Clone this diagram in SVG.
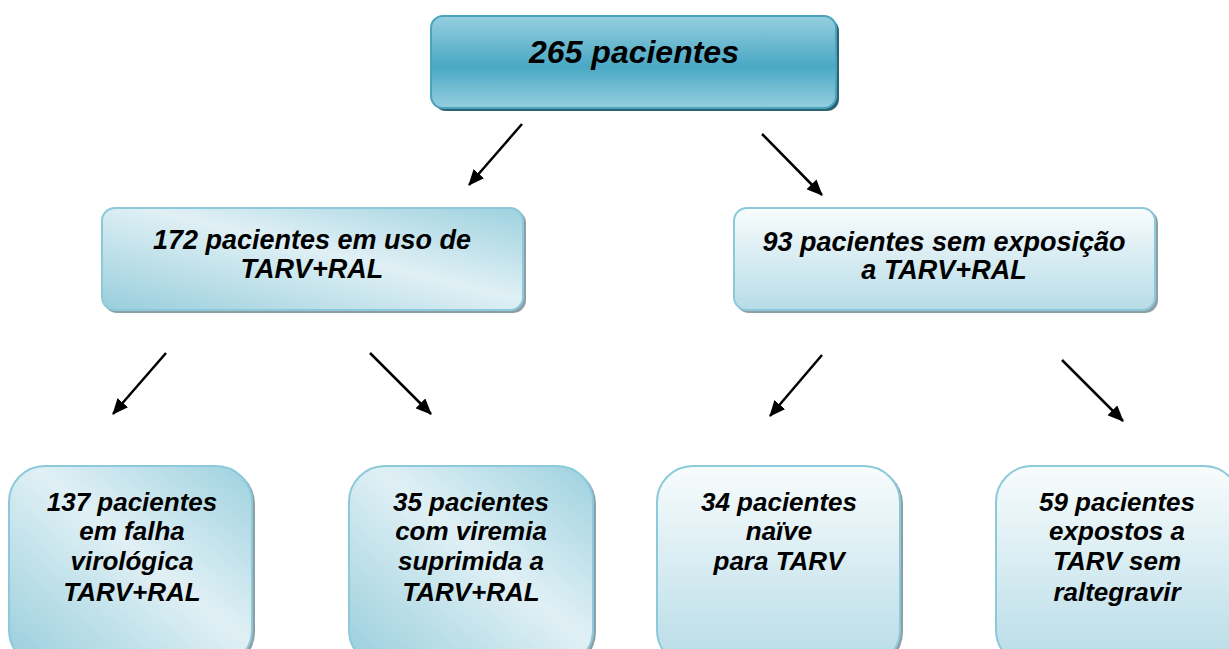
<svg xmlns="http://www.w3.org/2000/svg" width="1229" height="649" viewBox="0 0 1229 649">
<defs>
<linearGradient id="gTop" x1="0" y1="0" x2="0" y2="1">
<stop offset="0" stop-color="#95cfdf"/>
<stop offset="0.55" stop-color="#4aa8c4"/>
<stop offset="1" stop-color="#95cfdf"/>
</linearGradient>
<linearGradient id="gDiag" x1="0" y1="1" x2="1" y2="0">
<stop offset="0" stop-color="#98cedc"/>
<stop offset="0.55" stop-color="#e0f0f5"/>
<stop offset="1" stop-color="#9dd1df"/>
</linearGradient>
<linearGradient id="gVert" x1="0" y1="0" x2="0" y2="1">
<stop offset="0" stop-color="#f8fcfd"/>
<stop offset="1" stop-color="#b7dce7"/>
</linearGradient>
<marker id="ah" markerWidth="16" markerHeight="14" refX="15" refY="7" orient="auto" markerUnits="userSpaceOnUse">
<path d="M0,0 L16,7 L0,14 z" fill="#000"/>
</marker>
<style>
.lbl{font-family:"Liberation Sans",Arial,sans-serif;font-weight:bold;font-style:italic;fill:#000;text-anchor:middle}
.shd{fill:#8d9fa5}
.box{stroke:#8ccadb;stroke-width:2}
.conn{stroke:#000;stroke-width:2.5;fill:none;marker-end:url(#ah)}
</style>
</defs>

<g id="n-root">
<rect x="434" y="19" width="405" height="92" rx="12" fill="#2b6274"/>
<rect x="431" y="16" width="405" height="92" rx="12" fill="url(#gTop)" stroke="#4ba3bd" stroke-width="2"/>
<text class="lbl" x="634" y="63" font-size="32">265 pacientes</text>
</g>

<g id="n-172">
<rect class="shd" x="104" y="210" width="422" height="103" rx="13"/>
<rect class="box" x="102" y="208" width="421" height="102" rx="13" fill="url(#gDiag)"/>
<text class="lbl" x="312" y="249" font-size="27">172 pacientes em uso de</text>
<text class="lbl" x="312" y="278" font-size="27">TARV+RAL</text>
</g>

<g id="n-93">
<rect class="shd" x="736" y="210" width="422" height="103" rx="13"/>
<rect class="box" x="734" y="208" width="421" height="102" rx="13" fill="url(#gVert)"/>
<text class="lbl" x="944" y="251" font-size="27">93 pacientes sem exposição</text>
<text class="lbl" x="944" y="279" font-size="27">a TARV+RAL</text>
</g>

<g id="n-137">
<rect class="shd" x="11" y="468" width="244" height="200" rx="36"/>
<rect class="box" x="9" y="466" width="243" height="200" rx="36" fill="url(#gDiag)"/>
<text class="lbl" x="132" y="511" font-size="26">137 pacientes</text>
<text class="lbl" x="132" y="540" font-size="26">em falha</text>
<text class="lbl" x="132" y="570" font-size="26">virológica</text>
<text class="lbl" x="132" y="601" font-size="26">TARV+RAL</text>
</g>

<g id="n-35">
<rect class="shd" x="351" y="468" width="245" height="200" rx="36"/>
<rect class="box" x="349" y="466" width="244" height="200" rx="36" fill="url(#gDiag)"/>
<text class="lbl" x="471" y="511" font-size="26">35 pacientes</text>
<text class="lbl" x="471" y="540" font-size="26">com viremia</text>
<text class="lbl" x="471" y="570" font-size="26">suprimida a</text>
<text class="lbl" x="471" y="601" font-size="26">TARV+RAL</text>
</g>

<g id="n-34">
<rect class="shd" x="659" y="468" width="244" height="200" rx="36"/>
<rect class="box" x="657" y="466" width="243" height="200" rx="36" fill="url(#gVert)"/>
<text class="lbl" x="779" y="511" font-size="26">34 pacientes</text>
<text class="lbl" x="779" y="540" font-size="26">naïve</text>
<text class="lbl" x="779" y="570" font-size="26">para TARV</text>
</g>

<g id="n-59">
<rect class="shd" x="998" y="468" width="245" height="200" rx="36"/>
<rect class="box" x="996" y="466" width="244" height="200" rx="36" fill="url(#gVert)"/>
<text class="lbl" x="1117" y="511" font-size="26">59 pacientes</text>
<text class="lbl" x="1117" y="540" font-size="26">expostos a</text>
<text class="lbl" x="1117" y="570" font-size="26">TARV sem</text>
<text class="lbl" x="1117" y="601" font-size="26">raltegravir</text>
</g>

<g id="connectors">
<line class="conn" x1="522" y1="124" x2="469" y2="185"/>
<line class="conn" x1="762" y1="134" x2="822" y2="195"/>
<line class="conn" x1="166" y1="353" x2="113" y2="414"/>
<line class="conn" x1="370" y1="353" x2="431" y2="414"/>
<line class="conn" x1="822" y1="355" x2="770" y2="416"/>
<line class="conn" x1="1062" y1="360" x2="1123" y2="421"/>
</g>
</svg>
